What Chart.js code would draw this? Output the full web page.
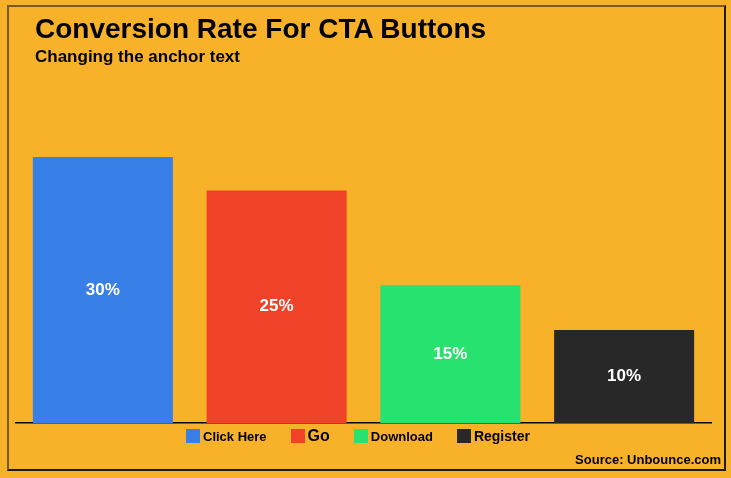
<!DOCTYPE html>
<html>
<head>
<meta charset="utf-8">
<script src="https://cdn.jsdelivr.net/npm/chart.js@4/dist/chart.umd.min.js"></script>
<style>
    html, body {margin: 0; padding: 0; background: #F8B22A;}
    body {width: 731px; height: 478px; position: relative; overflow: hidden; font-family: "Liberation Sans", Arial, sans-serif;}
    #frame {position: absolute; left: 7px; top: 5px; width: 715px; height: 462px;
        border-left: 2px solid #7a5a1c; border-top: 2px solid #7a5a1c;
        border-right: 2px solid #1e1a10; border-bottom: 2px solid #1e1a10;}
    #title {position: absolute; left: 35px; top: 13px; font-size: 28px; font-weight: bold; color: #000;}
    #subtitle {position: absolute; left: 35px; top: 47px; font-size: 17px; font-weight: bold; color: #000;}
    #source {position: absolute; right: 10px; top: 452px; font-size: 13px; font-weight: bold; color: #000;}
    #legend {position: absolute; left: 186px; top: 427px; display: flex; align-items: center; font-weight: bold; color: #000;}
    #legend .item {display: flex; align-items: center; margin-right: 24px;}
    #legend .box {width: 14px; height: 14px; margin-right: 3px;}
    canvas {position: absolute; left: 0; top: 0;}
</style>
</head>
<body>
<div id="frame"></div>
<canvas id="chart" width="731" height="478"></canvas>
<div id="title">Conversion Rate For CTA Buttons</div>
<div id="subtitle">Changing the anchor text</div>
<div id="legend"></div>
<div id="source">Source: Unbounce.com</div>
<script>
const categories = ['Click Here', 'Go', 'Download', 'Register'];
// bar heights as drawn in the picture (labels printed on them are rounded)
const rates = [28.6, 25, 14.8, 10];
const rateLabels = ['30%', '25%', '15%', '10%'];
const barColors = ['#3880E8', '#EF4228', '#27E26E', '#282828'];
const legendSizes = [13, 16, 13, 14];

const barText = {
    id: 'barText',
    afterDatasetsDraw(chart) {
        const ctx = chart.ctx;
        const meta = chart.getDatasetMeta(0);
        ctx.save();
        ctx.fillStyle = '#fff';
        ctx.font = 'bold 17px "Liberation Sans", Arial, sans-serif';
        ctx.textAlign = 'center';
        ctx.textBaseline = 'middle';
        meta.data.forEach((bar, i) => {
            ctx.fillText(rateLabels[i], bar.x, (bar.y + bar.base) / 2);
        });
        ctx.restore();
    }
};

const chart = new Chart(document.getElementById('chart').getContext('2d'), {
    type: 'bar',
    data: {
        labels: categories,
        datasets: [{
            data: rates,
            backgroundColor: barColors,
            barPercentage: 0.806,
            categoryPercentage: 1
        }]
    },
    options: {
        responsive: false,
        animation: false,
        layout: {padding: {left: 16, right: 20, top: 144, bottom: 47}},
        scales: {
            x: {
                grid: {display: false},
                ticks: {display: false},
                border: {color: '#000', width: 1.5}
            },
            y: {
                display: false,
                min: 0,
                max: 30
            }
        },
        plugins: {
            tooltip: {enabled: false},
            legend: {display: false}
        }
    },
    plugins: [barText]
});

// legend built from the same arrays
const legend = document.getElementById('legend');
chart.data.labels.forEach((c, i) => {
    const item = document.createElement('div');
    item.className = 'item';
    item.innerHTML = `<span class="box" style="background:${barColors[i]}"></span><span style="font-size:${legendSizes[i]}px">${c}</span>`;
    legend.appendChild(item);
});
</script>
</body>
</html>
